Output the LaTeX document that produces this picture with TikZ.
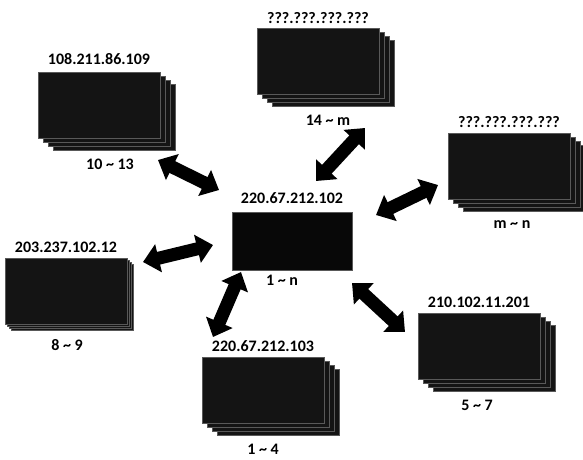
\documentclass[tikz,border=0pt]{standalone}
\usepackage{fontspec}
\setmainfont{Carlito}
\usetikzlibrary{positioning, calc, arrows.meta}

\begin{document}
\begin{tikzpicture}[x=1pt, y=-1pt,
	card/.style={
		draw=black!65,
		line width=0.3pt,
		fill=black!92,
		minimum width=122pt,
		minimum height=66pt,
		inner sep=0pt,
	},
	iplabel/.style={font=\bfseries\fontsize{16}{18}\selectfont, inner sep=1pt},
	rangelabel/.style={font=\bfseries\fontsize{16}{18}\selectfont, inner sep=1pt},
	link/.style={line width=13pt, {Triangle[length=16pt,width=28pt]}-{Triangle[length=16pt,width=28pt]}}]
	\useasboundingbox (0,0) rectangle (583,459);
	
	% centre host
	\node[card, fill=black!97, minimum width=120pt, minimum height=58pt] (c) at (292,241) {};
	\node[iplabel, above=7pt of c] (cip) {220.67.212.102};
	\node[rangelabel, below=4pt of c, xshift=-10pt] (crange) {1 \textasciitilde{} n};
	
	% top left
	\foreach \k in {3,2,1}
		\node[card, xshift=\k*5pt, yshift=-\k*4pt] at (99,105) {};
	\node[card] (tl) at (99,105) {};
	\node[iplabel, above=6pt of tl] (tlip) {108.211.86.109};
	\node[rangelabel, below=20pt of tl, xshift=11pt] (tlrange) {10 \textasciitilde{} 13};
	
	% top
	\foreach \k in {3,2,1}
		\node[card, xshift=\k*5pt, yshift=-\k*4pt] at (318,61) {};
	\node[card] (top) at (318,61) {};
	\node[iplabel, above=3pt of top] (topip) {???.???.???.???};
	\node[rangelabel, below=20pt of top, xshift=10pt] (toprange) {14 \textasciitilde{} m};
	
	% right
	\foreach \k in {3,2,1}
		\node[card, xshift=\k*5pt, yshift=-\k*4pt] at (509,166) {};
	\node[card] (rt) at (509,166) {};
	\node[iplabel, above=4pt of rt] (rtip) {???.???.???.???};
	\node[rangelabel, below=20pt of rt, xshift=3pt] (rtrange) {m \textasciitilde{} n};
	
	% left
	\foreach \k in {3,2,1}
		\node[card, xshift=\k*2pt, yshift=-\k*2pt] at (66,291) {};
	\node[card] (lt) at (66,291) {};
	\node[iplabel, above=4pt of lt] (ltip) {203.237.102.12};
	\node[rangelabel, below=14pt of lt, xshift=1pt] (ltrange) {8 \textasciitilde{} 9};
	
	% bottom
	\foreach \k in {3,2,1}
		\node[card, xshift=\k*5pt, yshift=-\k*4pt] at (263,390) {};
	\node[card] (bt) at (263,390) {};
	\node[iplabel, above=4pt of bt] (btip) {220.67.212.103};
	\node[rangelabel, below=20pt of bt] (btrange) {1 \textasciitilde{} 4};
	
	% bottom right
	\foreach \k in {3,2,1}
		\node[card, xshift=\k*5pt, yshift=-\k*4pt] at (479,346) {};
	\node[card] (br) at (479,346) {};
	\node[iplabel, above=4pt of br] (brip) {210.102.11.201};
	\node[rangelabel, below=20pt of br, xshift=-2pt] (brrange) {5 \textasciitilde{} 7};
	
	% links
	\draw[link] ($(c)+(-73,-51)$) -- ($(tl)+(59,55)$);
	\draw[link] ($(c)+(24,-60)$) -- ($(top)+(47,67)$);
	\draw[link] ($(c)+(84,-26)$) -- ($(rt)+(-71,19)$);
	\draw[link] ($(c)+(-79,4)$) -- ($(lt)+(77,-29)$);
	\draw[link] ($(c)+(-51,31)$) -- ($(bt)+(-50,-53)$);
	\draw[link] ($(c)+(60,42)$) -- ($(br)+(-74,-14)$);
\end{tikzpicture}
\end{document}
